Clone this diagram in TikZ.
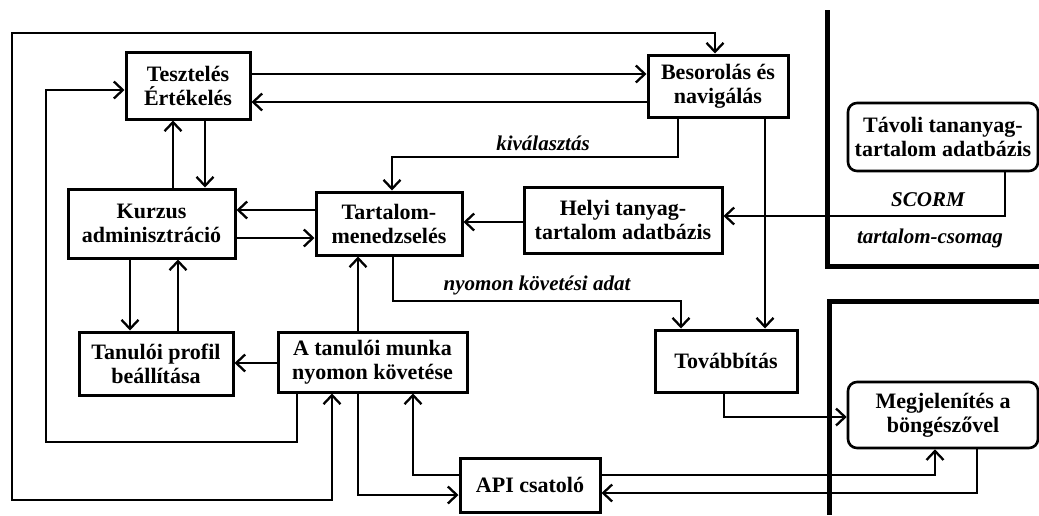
\documentclass[tikz,border=0pt]{standalone}
\usepackage{fontspec}
\setmainfont{Liberation Serif}
\usetikzlibrary{arrows.meta}
\begin{document}
\begin{tikzpicture}[x=1pt,y=-1pt,
  box/.style={draw, line width=3pt, inner sep=0pt, align=center, fill=white,
    font=\fontsize{22}{24}\selectfont\bfseries},
  rbox/.style={box, rounded corners=9pt, line width=2.6pt},
  conn/.style={line width=2.3pt, -{Straight Barb[length=9pt,width=17pt,line width=2.3pt]}},
  biconn/.style={line width=2.3pt, {Straight Barb[length=9pt,width=17pt,line width=2.3pt]}-{Straight Barb[length=9pt,width=17pt,line width=2.3pt]}},
  plain/.style={line width=2.3pt},
  divider/.style={line width=5pt},
  lab/.style={font=\fontsize{21}{24}\selectfont\bfseries\itshape, inner sep=0pt}]
\useasboundingbox (0,0) rectangle (1039,515);

% dividers
\draw[divider] (827,10) -- (827,266) -- (1039,266);
\draw[divider] (1039,301) -- (829,301) -- (829,515);

% nodes
\node[box, minimum width=124, minimum height=67] (T) at (188,85.5) {Tesztelés\\Értékelés};
\node[box, minimum width=140, minimum height=62] (B) at (718,86) {Besorolás és\\navigálás};
\node[box, minimum width=167, minimum height=69] (K) at (151.5,223.5) {Kurzus\\adminisztráció};
\node[box, minimum width=146, minimum height=63] (TM) at (389,223.5) {Tartalom-\\menedzselés};
\node[box, minimum width=198, minimum height=66] (H) at (623,220) {Helyi tanyag-\\tartalom adatbázis};
\node[rbox, minimum width=190, minimum height=68] (D) at (943,137) {Távoli tananyag-\\tartalom adatbázis};
\node[box, minimum width=154, minimum height=63] (P) at (156,363.5) {Tanulói profil\\beállítása};
\node[box, minimum width=189, minimum height=60] (A) at (372.5,362) {A tanulói munka\\nyomon követése};
\node[box, minimum width=142, minimum height=62] (TO) at (726,361) {Továbbítás};
\node[rbox, minimum width=190, minimum height=66] (M) at (943,415) {Megjelenítés a\\böngészővel};
\node[box, minimum width=140, minimum height=54] (API) at (530,485) {API csatoló};

% connectors
\draw[conn] (T.east |- 0,74) -- (B.west |- 0,74);
\draw[conn] (B.west |- 0,102) -- (T.east |- 0,102);
\draw[biconn] (B.north -| 715,0) -- (715,33) -- (12,33) -- (12,500) -- (332,500) -- (A.south -| 332,0);
\draw[conn] (A.south -| 297,0) -- (297,442) -- (46,442) -- (46,90) -- (T.west |- 0,90);
\draw[conn] (K.north -| 173,0) -- (T.south -| 173,0);
\draw[conn] (T.south -| 205,0) -- (K.north -| 205,0);
\draw[conn] (TM.west |- 0,210) -- (K.east |- 0,210);
\draw[conn] (K.east |- 0,238) -- (TM.west |- 0,238);
\draw[conn] (B.south -| 678,0) -- (678,157) -- (392,157) -- (TM.north -| 392,0);
\node[lab] (l1) at (543,143) {kiválasztás};
\draw[conn] (H.west |- 0,222) -- (TM.east |- 0,222);
\draw[conn] (D.south -| 1005,0) -- (1005,216) -- (H.east |- 0,216);
\node[lab] (l2) at (928,200) {SCORM};
\node[lab] (l3) at (930,238) {tartalom-csomag};
\draw[conn] (K.south -| 130,0) -- (P.north -| 130,0);
\draw[conn] (P.north -| 178,0) -- (K.south -| 178,0);
\draw[conn] (A.west |- 0,363) -- (P.east |- 0,363);
\draw[conn] (A.north -| 358,0) -- (TM.south -| 358,0);
\draw[conn] (TM.south -| 393,0) -- (393,301) -- (681,301) -- (TO.north -| 681,0);
\node[lab] (l4) at (537,285) {nyomon követési adat};
\draw[conn] (B.south -| 765,0) -- (TO.north -| 765,0);
\draw[conn] (TO.south -| 724,0) -- (724,417) -- (M.west |- 0,417);
\draw[conn] (A.south -| 358,0) -- (358,495) -- (API.west |- 0,495);
\draw[conn] (API.west |- 0,475) -- (413,475) -- (A.south -| 413,0);
\draw[conn] (API.east |- 0,475) -- (935,475) -- (M.south -| 935,0);
\draw[conn] (M.south -| 977,0) -- (977,493) -- (API.east |- 0,493);
\end{tikzpicture}
\end{document}
